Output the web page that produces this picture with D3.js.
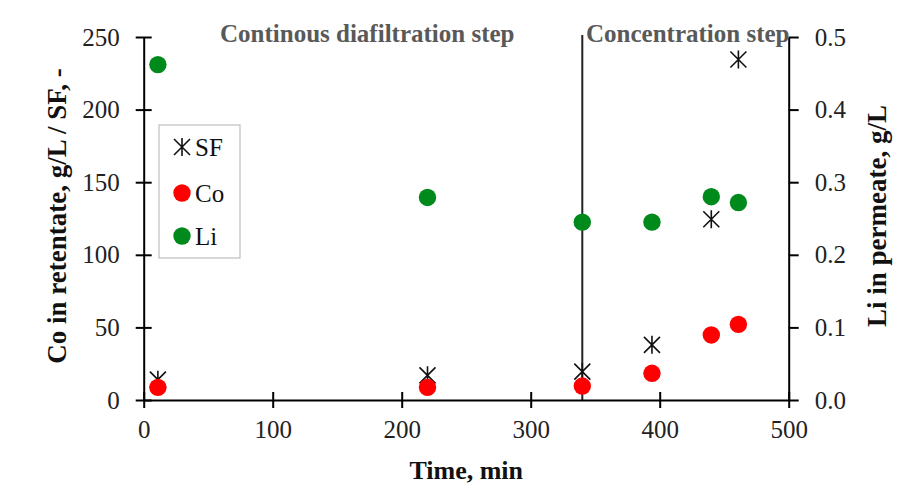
<!DOCTYPE html>
<html>
<head>
<meta charset="utf-8">
<script src="https://cdn.jsdelivr.net/npm/d3@7"></script>
<style>
body { margin: 0; background: #fff; }
#chart { width: 907px; height: 488px; }
.axis text { font-family: "Liberation Serif", "Times New Roman", serif; font-size: 25px; fill: #222; }
.axis path, .axis line { stroke: #000; stroke-width: 2px; }
.title { font-family: "Liberation Serif", "Times New Roman", serif; font-weight: bold; font-size: 27px; fill: #111; }
.step { font-family: "Liberation Serif", "Times New Roman", serif; font-weight: bold; font-size: 25px; fill: #595959; }
.legend text { font-family: "Liberation Serif", "Times New Roman", serif; font-size: 25px; fill: #111; }
</style>
</head>
<body>
<div id="chart"></div>
<script>
// данные
var time = [11, 220, 340, 394, 440, 461];
var sf = [14, 17, 19.5, 38, 124.5, 234.5];   // левая ось
var co = [8.7, 8.7, 9.6, 18.4, 44.8, 52.1];  // левая ось
var li = [0.462, 0.279, 0.245, 0.245, 0.280, 0.272]; // правая ось
var xTicks = [0, 100, 200, 300, 400, 500];
var leftTicks = [0, 50, 100, 150, 200, 250];
var rightTicks = [0, 0.1, 0.2, 0.3, 0.4, 0.5];
var stepLine = 340;
var stepLabels = ['Continous diafiltration step', 'Concentration step'];
var legendNames = ['SF', 'Co', 'Li'];

var
WIDTH = 907,
HEIGHT = 488,
LEFT = 143.7, RIGHT = 788.7,
TOP = 37, BOTTOM = 400;

var svg = d3
.select('#chart')
.append('svg')
.attr('width', WIDTH)
.attr('height', HEIGHT)
;

var x = d3.scaleLinear().domain([0, 500]).range([LEFT, RIGHT]);
var yL = d3.scaleLinear().domain([0, 250]).range([BOTTOM, TOP]);
var yR = d3.scaleLinear().domain([0, 0.5]).range([BOTTOM, TOP]);

// вертикальная линия между этапами
svg.append('line')
.attr('x1', x(stepLine)).attr('x2', x(stepLine))
.attr('y1', TOP - 2).attr('y2', BOTTOM)
.attr('stroke', '#222')
.attr('stroke-width', 2)
;

// оси
var gx = svg.append('g')
.attr('class', 'axis')
.attr('transform', 'translate(0,' + BOTTOM + ')')
.call(d3.axisBottom(x).tickValues(xTicks).tickSize(8).tickPadding(12).tickSizeOuter(0))
;
gx.selectAll('.tick line').attr('y1', -8);

var gl = svg.append('g')
.attr('class', 'axis')
.attr('transform', 'translate(' + LEFT + ',0)')
.call(d3.axisLeft(yL).tickValues(leftTicks).tickSize(8).tickPadding(16).tickSizeOuter(0))
;
gl.selectAll('.tick line').attr('x1', 8);

var gr = svg.append('g')
.attr('class', 'axis')
.attr('transform', 'translate(' + RIGHT + ',0)')
.call(d3.axisRight(yR).tickValues(rightTicks).tickFormat(d3.format('.1f')).tickSize(10).tickPadding(16).tickSizeOuter(0))
;

// подписи этапов
svg.append('text').attr('class', 'step').attr('x', 220).attr('y', 42).text(stepLabels[0]);
svg.append('text').attr('class', 'step').attr('x', 586).attr('y', 42).text(stepLabels[1]);

// заголовки осей
svg.append('text')
.attr('class', 'title')
.attr('x', (LEFT + RIGHT) / 2)
.attr('y', 479)
.attr('text-anchor', 'middle')
.style('font-size', '26px')
.text('Time, min')
;
svg.append('text')
.attr('class', 'title')
.attr('transform', 'translate(57,216) rotate(-90)')
.attr('text-anchor', 'middle')
.attr('dy', '0.35em')
.text('Co in retentate, g/L / SF, -')
;
svg.append('text')
.attr('class', 'title')
.attr('transform', 'translate(877,216) rotate(-90)')
.attr('text-anchor', 'middle')
.attr('dy', '0.35em')
.text('Li in permeate, g/L')
;

var STAR = 'M0,-9V9M-8,-8L8,8M-8,8L8,-8';

function drawStar(g, px, py) {
	g.append('path')
	.attr('d', STAR)
	.attr('transform', 'translate(' + px + ',' + py + ')')
	.attr('fill', 'none')
	.attr('stroke', '#111')
	.attr('stroke-width', 1.6)
	;
}

// SF
var sfG = svg.append('g');
time.forEach(function(t, i) { drawStar(sfG, x(t), yL(sf[i])); });

// Co
svg.append('g')
.selectAll('circle')
.data(co)
.enter()
.append('circle')
.attr('cx', function(d, i) { return x(time[i]); })
.attr('cy', function(d) { return yL(d); })
.attr('r', 8.7)
.attr('fill', '#ff0000')
;

// Li
svg.append('g')
.selectAll('circle')
.data(li)
.enter()
.append('circle')
.attr('cx', function(d, i) { return x(time[i]); })
.attr('cy', function(d) { return yR(d); })
.attr('r', 8.7)
.attr('fill', '#008a1c')
;

// легенда
var legend = svg.append('g').attr('class', 'legend');
legend.append('rect')
.attr('x', 159).attr('y', 125)
.attr('width', 81).attr('height', 133)
.attr('fill', '#fff')
.attr('stroke', '#bfbfbf')
.attr('stroke-width', 1.2)
;
var legendY = [147, 193, 236];
drawStar(legend, 182, legendY[0]);
legend.append('circle').attr('cx', 182).attr('cy', legendY[1]).attr('r', 8.7).attr('fill', '#ff0000');
legend.append('circle').attr('cx', 182).attr('cy', legendY[2]).attr('r', 8.7).attr('fill', '#008a1c');
legend.selectAll('text')
.data(legendNames)
.enter()
.append('text')
.attr('x', 195)
.attr('y', function(d, i) { return legendY[i]; })
.attr('dy', '0.35em')
.text(function(d) { return d; })
;
</script>
</body>
</html>
